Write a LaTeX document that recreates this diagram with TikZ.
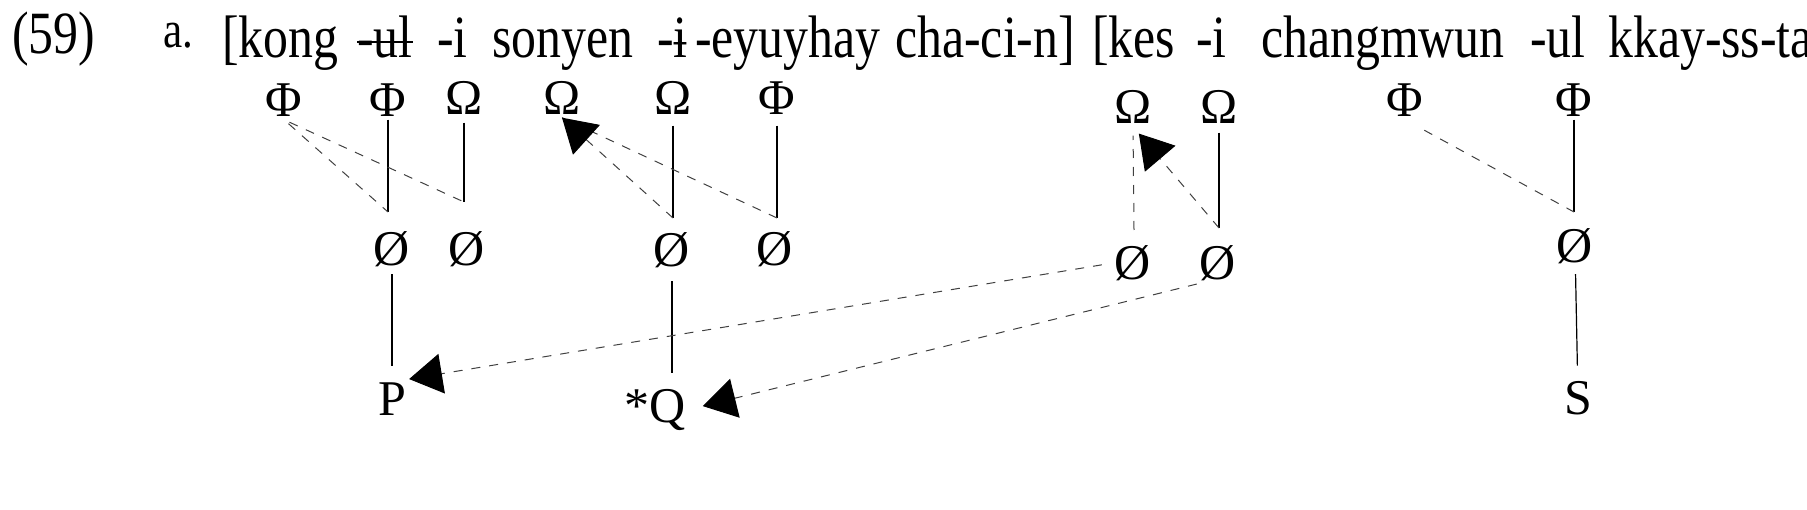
\documentclass[tikz,border=0pt]{standalone}
\usepackage{fontspec}
\setmainfont{Liberation Serif}
\newfontfamily\linefont{Liberation Serif}[FakeStretch=0.83]
\usetikzlibrary{arrows.meta,positioning}
\tikzset{word/.style={anchor=base west,inner sep=0pt,font=\linefont\fontsize{60}{66}\selectfont},
         sym/.style={anchor=base,inner sep=3pt,font=\fontsize{50}{58}\selectfont},
         assoc/.style={line width=1.2pt},
         delink/.style={line width=1pt,black!75,dash pattern=on 9pt off 9pt},
         reassoc/.style={delink,-{Triangle[length=33pt,width=40pt,color=black]}}}
\begin{document}
\begin{tikzpicture}[x=1pt,y=-1pt]
                \useasboundingbox (0,0) rectangle (1807,510);
                % example line
                \node[word] (num) at (12,54) {(59)};
                \node[word,font=\linefont\fontsize{52}{58}\selectfont] (lbl) at (163,48) {a.};
                \node[word] (kong) at (222,58) {[kong};
                \node[word] (ul) at (357,58) {-ul};
                \draw[line width=1.6pt] ([yshift=16pt]ul.base west) -- ([yshift=16pt]ul.base east);
                \node[word] (nomA) at (437,58) {-i};
                \node[word] (sonyen) at (492,58) {sonyen};
                \node[word] (nomB) at (657,58) {-ɨ};
                \node[word] (eyuyhay) at (695,58) {-eyuyhay};
                \node[word] (chacin) at (895,58) {cha-ci-n]};
                \node[word] (kes) at (1092,58) {[kes};
                \node[word] (nomC) at (1196,58) {-i};
                \node[word] (changmwun) at (1261,58) {changmwun};
                \node[word] (acc) at (1530,58) {-ul};
                \node[word] (kkay) at (1608,58) {kkay-ss-ta};
                % upper tier
                \node[sym] (phiA) at (284,116.5) {Φ};
                \node[sym] (phiB) at (388,116.5) {Φ};
                \node[sym] (omA) at (464,114.5) {Ω};
                \node[sym] (omB) at (562,114.5) {Ω};
                \node[sym] (omC) at (673,114.5) {Ω};
                \node[sym] (phiC) at (777,114.5) {Φ};
                \node[sym] (omD) at (1133,123.5) {Ω};
                \node[sym] (omE) at (1219,123.5) {Ω};
                \node[sym] (phiD) at (1405,116.5) {Φ};
                \node[sym] (phiE) at (1574,116.5) {Φ};
                % middle tier
                \node[sym] (oA) at (392,265.5) {Ø};
                \node[sym] (oB) at (467,265.5) {Ø};
                \node[sym] (oC) at (672,266.5) {Ø};
                \node[sym] (oD) at (775,265.5) {Ø};
                \node[sym] (oE) at (1133,279.5) {Ø};
                \node[sym] (oF) at (1218,279.5) {Ø};
                \node[sym] (oG) at (1575,262.5) {Ø};
                % lower tier
                \node[sym] (pP) at (392,415) {P};
                \node[sym] (qQ) at (668,422) {\llap{*}Q};
                \node[sym] (sS) at (1578,414) {S};
                % joints
                \coordinate (jA) at (388,212);
                \coordinate (jB) at (464,202);
                \coordinate (jC) at (673,218);
                \coordinate (jD) at (777,218);
                \coordinate (jE) at (1134,230);
                \coordinate (jF) at (1219,228);
                \coordinate (jG) at (1574,212);
                % associations
                \draw[assoc] (phiB) -- (jA);
                \draw[assoc,shorten <=5pt] (omA) -- (jB);
                \draw[assoc,shorten <=8pt] (omC) -- (jC);
                \draw[assoc,shorten <=8pt] (phiC) -- (jD);
                \draw[assoc,shorten <=6pt] (omE) -- (jF);
                \draw[assoc] (phiE) -- (jG);
                \draw[delink,shorten <=6pt] (phiA.south) -- (jA);
                \draw[delink,shorten <=6pt] (phiA.south) -- (jB);
                \draw[delink] (jD) -- (omB.south);
                \draw[reassoc] (jC) -- (omB.south);
                \draw[delink,shorten >=9pt] (jE) -- (omD.south);
                \draw[reassoc,shorten >=9pt] (jF) -- (omD.south);
                \draw[delink,shorten <=22pt] (phiD.south) -- (jG);
                \draw[assoc,shorten <=4pt,shorten >=13pt] (oA) -- (pP);
                \draw[assoc,shorten <=10pt,shorten >=13pt] (oC) -- (oC |- qQ.north);
                \draw[assoc,shorten <=7pt,shorten >=12pt] (oG) -- (sS);
                \draw[reassoc,shorten <=10pt] (oE.west) -- (pP.north east);
                \draw[reassoc,shorten >=14pt] (oF.south west) -- (qQ.east);
            \end{tikzpicture}
\end{document}
